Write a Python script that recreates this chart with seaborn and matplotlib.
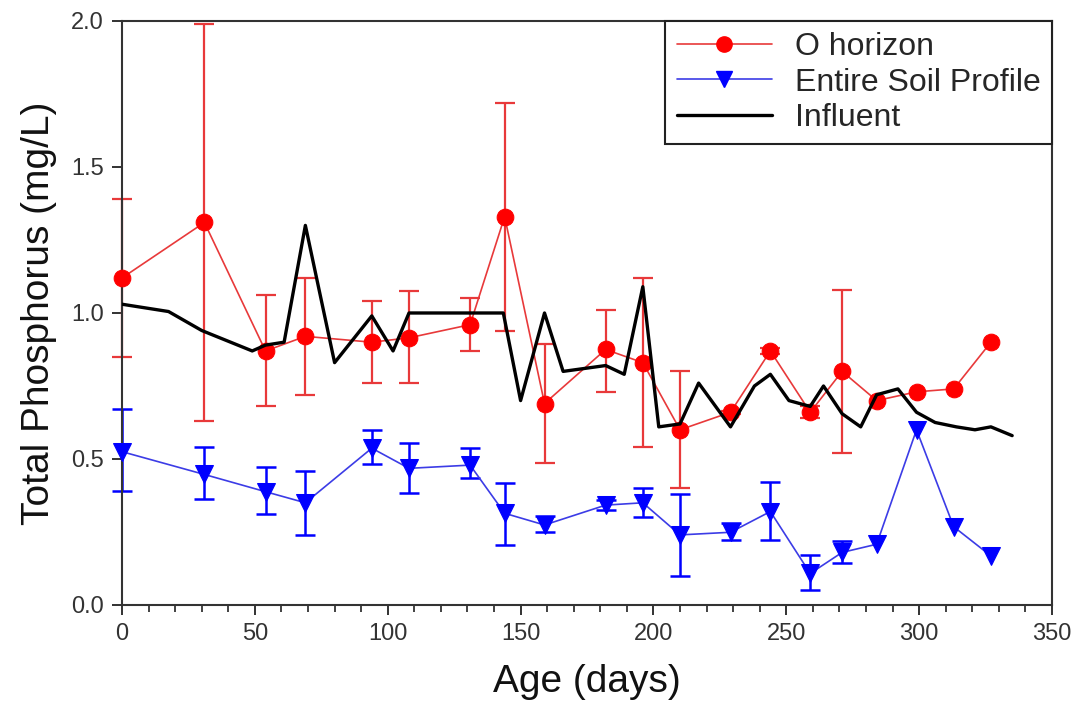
import numpy as np
import pandas as pd
import matplotlib
matplotlib.use("Agg")
import matplotlib.pyplot as plt
from matplotlib.lines import Line2D
import seaborn as sns

# ---------------- data ----------------
days = [0, 31, 54, 69, 94, 108, 131, 144, 159, 182, 196, 210, 229, 244, 259, 271, 284, 299, 313, 327]

o_horizon = [1.12, 1.31, 0.87, 0.92, 0.90, 0.915, 0.96, 1.33, 0.69, 0.875, 0.83, 0.60,
             0.66, 0.87, 0.66, 0.80, 0.70, 0.73, 0.74, 0.90]
# error-bar limits (None = no error bar drawn)
o_upper = [1.39, 1.99, 1.06, 1.12, 1.04, 1.075, 1.05, 1.72, 0.895, 1.01, 1.12, 0.80,
           0.665, 0.88, 0.68, 1.08, None, None, None, None]
o_lower = [0.85, 0.63, 0.68, 0.72, 0.76, 0.76, 0.87, 0.94, 0.485, 0.73, 0.54, 0.40,
           0.655, 0.86, 0.64, 0.52, None, None, None, None]

soil = [0.525, 0.447, 0.388, 0.35, 0.537, 0.468, 0.479, 0.314, 0.274, 0.342, 0.35, 0.24,
        0.249, 0.32, 0.108, 0.18, 0.208, 0.60, 0.268, 0.168]
soil_upper = [0.671, 0.54, 0.472, 0.46, 0.60, 0.554, 0.539, 0.417, 0.306, 0.358, 0.40, 0.38,
              0.28, 0.42, 0.171, 0.22, None, None, None, None]
soil_lower = [0.391, 0.362, 0.312, 0.24, 0.482, 0.382, 0.434, 0.205, 0.249, 0.326, 0.30, 0.10,
              0.223, 0.223, 0.051, 0.143, None, None, None, None]

infl_days = [0, 17.5, 30, 49, 54, 61, 69, 80, 94, 102, 108, 143.5, 150, 159, 166, 182, 189,
             196, 202, 210, 217, 229, 238, 244, 251, 259, 264, 271, 278, 284, 292, 299, 306,
             314, 321, 327, 335]
influent = [1.03, 1.005, 0.94, 0.87, 0.89, 0.90, 1.30, 0.83, 0.99, 0.87, 1.00, 1.00, 0.70,
            1.00, 0.80, 0.82, 0.79, 1.09, 0.61, 0.62, 0.76, 0.61, 0.75, 0.79, 0.70, 0.68,
            0.75, 0.655, 0.61, 0.72, 0.74, 0.66, 0.625, 0.61, 0.60, 0.61, 0.58]

x_ticks = [0, 50, 100, 150, 200, 250, 300, 350]
y_ticks = [0.0, 0.5, 1.0, 1.5, 2.0]
labels = ["O horizon", "Entire Soil Profile", "Influent"]

# ---------------- style ----------------
sns.set_theme(style="ticks")
plt.rcParams["font.family"] = ["Liberation Sans", "DejaVu Sans"]

RED = "#ff0000"
RED_LINE = "#e8393a"
BLUE = "#0000ff"
BLUE_LINE = "#3c3ce6"

fig = plt.figure(figsize=(10.78, 7.07), dpi=100)
ax = fig.add_axes([0.1132, 0.1443, 0.9759 - 0.1132, 0.9703 - 0.1443])

df_o = pd.DataFrame({"day": days, "val": o_horizon, "up": o_upper, "lo": o_lower})
df_s = pd.DataFrame({"day": days, "val": soil, "up": soil_upper, "lo": soil_lower})
df_i = pd.DataFrame({"day": infl_days, "val": influent})

# error bars (only where limits are given)
eo = df_o.dropna(subset=["up", "lo"])
c1 = ax.errorbar(eo["day"], eo["val"],
                 yerr=[eo["val"] - eo["lo"].astype(float), eo["up"].astype(float) - eo["val"]],
                 fmt="none", ecolor=RED_LINE, elinewidth=1.6, capsize=7, capthick=1.6, zorder=2)
es = df_s.dropna(subset=["up", "lo"])
c2 = ax.errorbar(es["day"], es["val"],
                 yerr=[es["val"] - es["lo"].astype(float), es["up"].astype(float) - es["val"]],
                 fmt="none", ecolor=BLUE, elinewidth=1.8, capsize=7, capthick=1.8, zorder=2)
for c in (c1, c2):
    for art in c.get_children():
        art.set_clip_on(False)

sns.lineplot(data=df_o, x="day", y="val", ax=ax, color=RED_LINE, linewidth=1.2,
             marker="o", markersize=12, markerfacecolor=RED, markeredgecolor=RED,
             sort=False, estimator=None, zorder=3, clip_on=False)
sns.lineplot(data=df_s, x="day", y="val", ax=ax, color=BLUE_LINE, linewidth=1.2,
             marker="v", markersize=13, markerfacecolor=BLUE, markeredgecolor=BLUE,
             sort=False, estimator=None, zorder=3, clip_on=False)
sns.lineplot(data=df_i, x="day", y="val", ax=ax, color="black", linewidth=2.4,
             sort=False, estimator=None, zorder=4)

# axes
ax.set_xlim(0, 350)
ax.set_ylim(0, 2.0)
ax.set_xticks(x_ticks)
ax.set_xticks(np.arange(0, 351, 10), minor=True)
ax.set_yticks(y_ticks)
ax.set_yticklabels([f"{v:.1f}" for v in y_ticks])
ax.tick_params(axis="both", which="major", direction="out", length=7, width=1.3,
               labelsize=17, colors="#222222", labelcolor="#333333", pad=6)
ax.tick_params(axis="x", which="minor", direction="out", length=5, width=1.2, colors="#222222")
for side, sp in ax.spines.items():
    sp.set_visible(True)
    sp.set_color("#333333")
    sp.set_linewidth(1.5)

ax.set_xlabel("Age (days)", fontsize=28, labelpad=14, color="#111111")
ax.set_ylabel("Total Phosphorus (mg/L)", fontsize=28, labelpad=10, color="#111111")

handles = [
    Line2D([], [], color=RED_LINE, lw=1.2, marker="o", markersize=11,
           markerfacecolor=RED, markeredgecolor=RED),
    Line2D([], [], color=BLUE_LINE, lw=1.2, marker="v", markersize=11,
           markerfacecolor=BLUE, markeredgecolor=BLUE),
    Line2D([], [], color="black", lw=2.4),
]
leg = ax.legend(handles, labels, loc="upper right", borderaxespad=0, fontsize=23,
                frameon=True, fancybox=False, edgecolor="#222222", handlelength=3.0,
                handletextpad=0.7, labelspacing=0.16, borderpad=0.36)
leg.get_frame().set_linewidth(1.5)
leg.get_frame().set_alpha(1)
leg.set_zorder(6)

fig.savefig("out.png", dpi=100)
